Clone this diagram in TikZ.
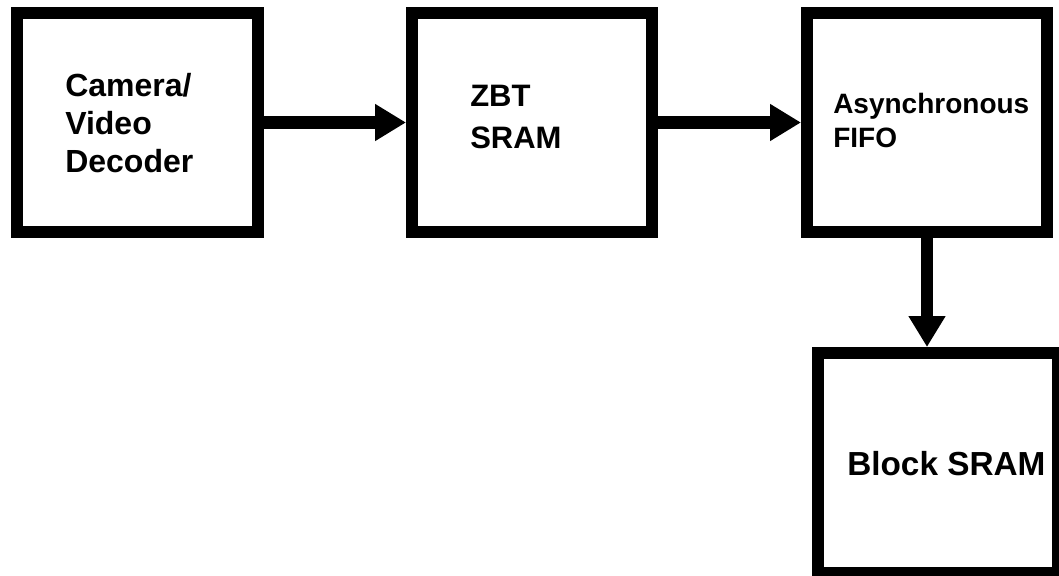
\documentclass[tikz,border=0pt]{standalone}
\usepackage{fontspec}
\setmainfont{Liberation Sans}
\usetikzlibrary{arrows.meta,positioning}

\begin{document}
\begin{tikzpicture}[
  x=0.75pt, y=-0.75pt,
  blk/.style={draw, line width=9pt, minimum width=180pt, minimum height=164.25pt, inner sep=0pt},
  lbl/.style={anchor=base west, align=left, inner sep=0pt},
  arr/.style={-{Triangle[length=23.25pt, width=26.25pt]}, line width=9.5pt},
  node distance=106.5pt
]
\useasboundingbox (0,0) rectangle (1059,575);

\node[blk, minimum width=180.75pt] (cam) at (137.5,122.5) {};
\node[blk, right=106.5pt of cam] (zbt) {};
\node[blk, right=107.25pt of zbt] (fifo) {};
\node[blk, below=81.75pt of fifo, xshift=8.25pt, minimum height=165pt] (bsram) {};

% base anchor sits on the last line
\node[lbl, font=\fontsize{24}{28.5}\selectfont\bfseries] (camtxt) at ([shift={(54,165)}]cam.north west) {Camera/\\Video\\Decoder};
\node[lbl, font=\fontsize{23.25}{31.5}\selectfont\bfseries] (zbttxt) at ([shift={(64,141)}]zbt.north west) {ZBT\\SRAM};
\node[lbl, font=\fontsize{21}{25}\selectfont\bfseries] (fifotxt) at ([shift={(32,140)}]fifo.north west) {Asynchronous\\FIFO};
\node[lbl, font=\fontsize{25}{30}\selectfont\bfseries] (bsramtxt) at ([shift={(35,128)}]bsram.north west) {Block SRAM};

\draw[arr] (cam) -- (zbt);
\draw[arr] (zbt) -- (fifo);
\draw[arr] (fifo.south) -- (fifo.south |- bsram.north);

\end{tikzpicture}
\end{document}
